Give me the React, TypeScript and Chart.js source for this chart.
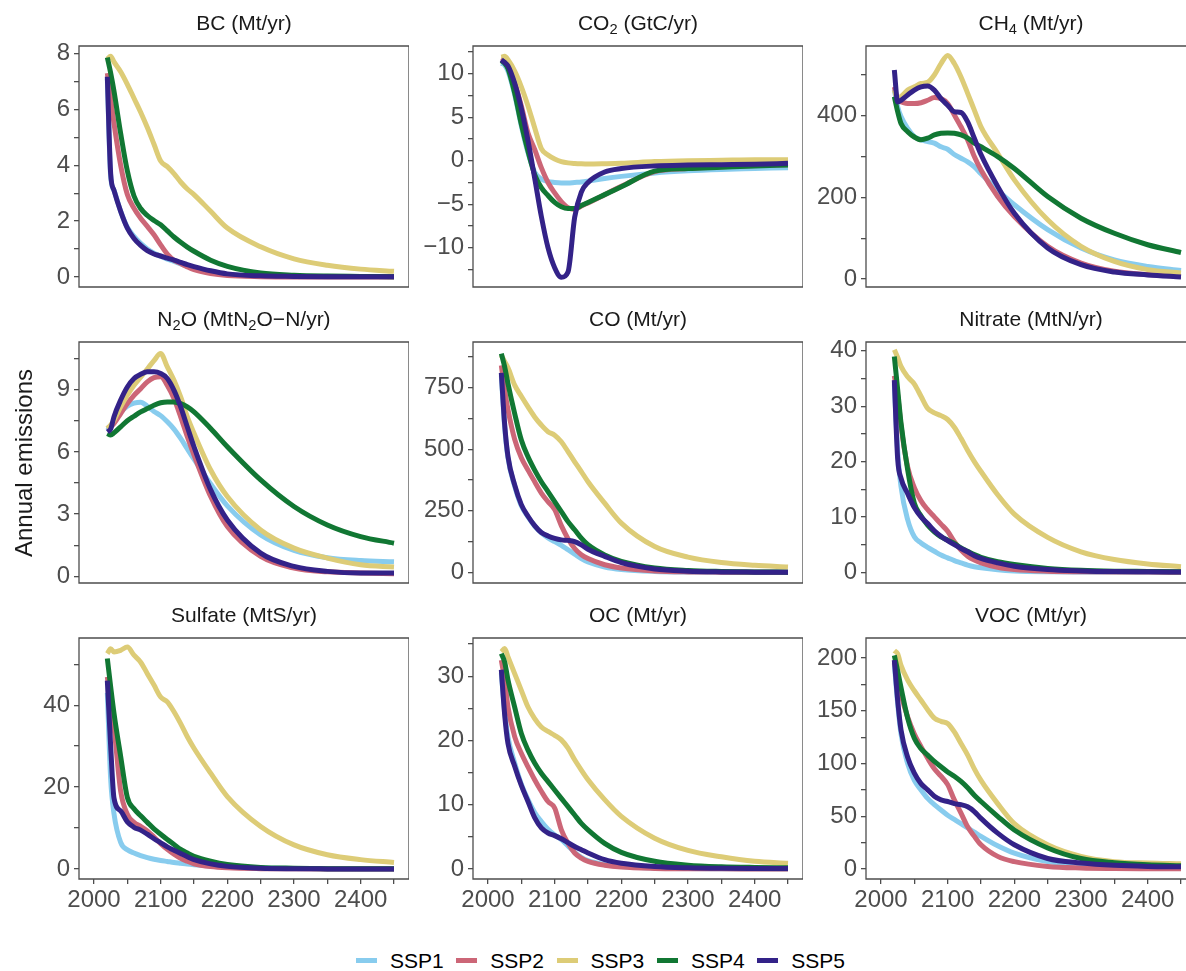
import React, { useEffect, useRef } from 'react';
import { Chart, registerables } from 'chart.js';

Chart.register(...registerables);

// ---------------- data ----------------
const years = [2020, 2025, 2030, 2040, 2050, 2060, 2070, 2080, 2090, 2100, 2110, 2120, 2130, 2140, 2150, 2175, 2200, 2250, 2300, 2350, 2400, 2450];

const seriesNames = ['SSP1', 'SSP2', 'SSP3', 'SSP4', 'SSP5'];
const seriesColors = ['#88CCEE', '#CC6677', '#DDCC77', '#117733', '#332288'];

const xTickValues = [2000, 2050, 2100, 2150, 2200, 2250, 2300, 2350, 2400, 2450];
const xTickLabels = [2000, 2100, 2200, 2300, 2400];

// rows: SSP1..SSP5
const bcValues = [
  [7.1, 3.6, 3.1, 2.35, 1.78, 1.45, 1.2, 1.0, 0.85, 0.74, 0.64, 0.56, 0.47, 0.39, 0.32, 0.18, 0.09, 0.03, 0.01, 0.01, 0.01, 0.01],
  [7.3, 6.4, 5.5, 4.0, 2.95, 2.46, 2.1, 1.81, 1.51, 1.15, 0.82, 0.6, 0.48, 0.36, 0.26, 0.12, 0.05, 0.01, 0, 0, 0, 0],
  [7.8, 7.9, 7.7, 7.35, 6.9, 6.4, 5.9, 5.35, 4.75, 4.15, 3.95, 3.7, 3.4, 3.15, 2.95, 2.35, 1.75, 1.08, 0.65, 0.42, 0.28, 0.2],
  [7.86, 7.3, 6.65, 5.14, 3.8, 2.9, 2.45, 2.2, 2.02, 1.87, 1.65, 1.43, 1.24, 1.07, 0.92, 0.6, 0.38, 0.14, 0.06, 0.03, 0.02, 0.01],
  [7.17, 3.7, 3.1, 2.35, 1.75, 1.38, 1.13, 0.94, 0.82, 0.75, 0.67, 0.6, 0.52, 0.44, 0.37, 0.22, 0.11, 0.04, 0.02, 0.01, 0.01, 0.01],
];
const co2Values = [
  [11.2, 11.0, 10.3, 7.6, 4.0, 0.9, -1.3, -2.1, -2.4, -2.5, -2.55, -2.55, -2.5, -2.45, -2.35, -2.05, -1.8, -1.4, -1.15, -1.0, -0.9, -0.8],
  [11.8, 11.6, 11.0, 9.0, 6.3, 3.2, 1.3, -0.8, -2.5, -3.7, -4.7, -5.4, -5.6, -5.2, -4.85, -3.9, -2.95, -1.25, -0.9, -0.7, -0.55, -0.45],
  [11.9, 12.0, 11.6, 10.3, 8.5, 6.3, 3.8, 1.4, 0.65, 0.2, -0.1, -0.25, -0.32, -0.36, -0.38, -0.35, -0.3, -0.1, 0.0, 0.05, 0.1, 0.1],
  [11.5, 11.2, 10.6, 7.8, 4.2, 1.1, -1.6, -3.1, -4.0, -4.8, -5.3, -5.5, -5.5, -5.15, -4.8, -3.9, -3.0, -1.2, -0.9, -0.75, -0.6, -0.5],
  [11.6, 11.3, 10.9, 8.9, 6.0, 2.3, -2.0, -6.4, -10.0, -12.3, -13.4, -12.8, -6.5, -3.6, -2.5, -1.3, -0.9, -0.6, -0.5, -0.45, -0.4, -0.3],
];
const ch4Values = [
  [463, 422, 398, 369, 349, 341, 337, 333, 324, 318, 305, 296, 287, 275, 258, 218, 182, 121, 76, 47, 31, 21],
  [471, 438, 434, 430, 430, 432, 438, 445, 442, 430, 402, 373, 341, 300, 267, 202, 153, 80, 39, 19, 11, 7],
  [463, 443, 447, 463, 471, 479, 482, 500, 528, 548, 528, 495, 455, 414, 373, 308, 243, 145, 80, 43, 23, 15],
  [447, 410, 381, 361, 348, 341, 345, 353, 357, 358, 357, 353, 345, 333, 324, 300, 271, 202, 149, 112, 84, 65],
  [512, 434, 438, 451, 463, 471, 473, 463, 442, 426, 410, 408, 385, 345, 305, 227, 161, 76, 35, 17, 10, 5],
];
const n2oValues = [
  [7.05, 7.2, 7.45, 7.9, 8.2, 8.35, 8.4, 8.2, 7.95, 7.75, 7.45, 7.1, 6.65, 6.15, 5.65, 4.45, 3.4, 2.0, 1.25, 0.9, 0.76, 0.7],
  [7.13, 7.2, 7.37, 7.85, 8.33, 8.73, 9.05, 9.38, 9.58, 9.62, 9.21, 8.57, 7.69, 6.73, 5.85, 3.85, 2.4, 0.96, 0.4, 0.22, 0.16, 0.13],
  [7.13, 7.3, 7.53, 8.17, 8.73, 9.21, 9.6, 10.0, 10.4, 10.74, 10.1, 9.45, 8.65, 7.69, 6.9, 5.13, 3.85, 2.24, 1.36, 0.88, 0.56, 0.45],
  [6.89, 6.81, 6.92, 7.21, 7.5, 7.72, 7.93, 8.09, 8.25, 8.37, 8.41, 8.41, 8.33, 8.17, 7.93, 7.13, 6.25, 4.65, 3.37, 2.48, 1.92, 1.6],
  [6.97, 7.1, 7.7, 8.5, 9.13, 9.54, 9.74, 9.86, 9.86, 9.78, 9.54, 8.97, 8.17, 7.2, 6.25, 4.17, 2.72, 1.12, 0.48, 0.24, 0.16, 0.16],
];
const coValues = [
  [800, 590, 465, 350, 270, 225, 188, 160, 140, 125, 110, 92, 74, 56, 42, 22, 12, 4, 1.5, 0.5, 0.2, 0.1],
  [840, 740, 660, 540, 465, 415, 368, 322, 287, 255, 190, 137, 97, 72, 56, 31, 18, 6, 2, 1, 0.5, 0.3],
  [881, 855, 830, 760, 715, 672, 631, 598, 571, 557, 530, 490, 449, 409, 368, 281, 200, 105, 62, 40, 29, 22],
  [888, 834, 766, 645, 537, 469, 415, 368, 328, 287, 247, 206, 173, 139, 112, 71, 45, 18, 8, 4, 2, 1],
  [810, 600, 470, 355, 275, 228, 190, 162, 148, 138, 132, 130, 125, 112, 94, 65, 40, 14, 5, 2, 1, 0.5],
];
const nitrateValues = [
  [34, 22, 15.5, 9.5, 6.4, 5.3, 4.5, 3.8, 3.1, 2.6, 2.1, 1.7, 1.3, 1.0, 0.8, 0.45, 0.25, 0.1, 0.05, 0.02, 0.02, 0.02],
  [35.5, 32, 26.5, 19.0, 15.3, 12.9, 11.3, 10.0, 8.7, 7.4, 5.5, 4.0, 2.9, 2.2, 1.7, 0.9, 0.5, 0.2, 0.1, 0.05, 0.03, 0.02],
  [40.2, 38.8, 37.2, 35.3, 34.0, 31.8, 29.6, 28.8, 28.3, 27.6, 26.2, 24.2, 22.0, 20.0, 18.2, 14.0, 10.5, 6.3, 3.7, 2.3, 1.5, 1.0],
  [39, 33, 27, 18.5, 12.5, 10.2, 8.5, 7.3, 6.4, 5.8, 5.2, 4.4, 3.8, 3.2, 2.7, 1.9, 1.4, 0.7, 0.35, 0.2, 0.15, 0.1],
  [34.7, 20.5, 17.0, 14.2, 11.7, 10.0, 8.8, 7.5, 6.5, 5.7, 5.0, 4.3, 3.7, 3.0, 2.5, 1.7, 1.1, 0.5, 0.25, 0.12, 0.08, 0.05],
];
const sulfateValues = [
  [43, 22, 13.5, 6.5, 4.7, 3.9, 3.3, 2.8, 2.4, 2.1, 1.85, 1.6, 1.4, 1.2, 1.05, 0.75, 0.5, 0.25, 0.12, 0.06, 0.03, 0.02],
  [46.9, 41.2, 34.7, 19.0, 13.4, 11.4, 10.4, 9.3, 7.8, 6.2, 4.8, 3.6, 2.6, 1.9, 1.3, 0.6, 0.3, 0.1, 0.05, 0.02, 0.01, 0.01],
  [52.6, 53.8, 53.0, 53.4, 54.2, 52.2, 50.5, 47.7, 44.9, 42.0, 40.8, 38.4, 35.5, 32.3, 29.5, 23.4, 17.7, 10.4, 5.9, 3.5, 2.3, 1.6],
  [51.4, 44.5, 38.0, 27.5, 17.5, 14.7, 13.0, 11.4, 9.8, 8.5, 7.2, 6.0, 4.8, 3.9, 3.1, 1.9, 1.1, 0.4, 0.2, 0.1, 0.05, 0.05],
  [46, 30, 17.3, 14.2, 11.5, 10.2, 9.5, 8.5, 7.4, 6.4, 5.4, 4.6, 3.8, 3.0, 2.3, 1.25, 0.65, 0.2, 0.08, 0.04, 0.02, 0.02],
];
const ocValues = [
  [30.5, 24.5, 20.5, 16.5, 13.2, 10.8, 8.8, 7.4, 6.2, 5.3, 4.6, 3.6, 2.6, 1.8, 1.3, 0.7, 0.4, 0.15, 0.08, 0.05, 0.03, 0.02],
  [32.5, 29.4, 25.2, 20.6, 18.0, 15.9, 13.9, 12.1, 10.5, 9.5, 6.1, 4.0, 2.5, 1.7, 1.2, 0.6, 0.3, 0.1, 0.05, 0.03, 0.02, 0.01],
  [33.8, 34.3, 33.0, 30.4, 27.8, 25.2, 23.4, 22.1, 21.4, 20.8, 20.1, 18.8, 17.0, 15.4, 13.9, 10.8, 8.2, 4.8, 2.9, 1.9, 1.2, 0.9],
  [33.5, 32.2, 29.4, 25.2, 21.1, 18.5, 16.5, 14.9, 13.6, 12.3, 11.0, 9.7, 8.4, 7.1, 6.1, 4.0, 2.6, 1.2, 0.6, 0.35, 0.25, 0.2],
  [31, 24, 19.5, 16, 13, 10.5, 8.0, 6.4, 5.6, 5.2, 4.7, 4.1, 3.5, 3.0, 2.5, 1.45, 0.9, 0.4, 0.2, 0.12, 0.1, 0.1],
];
const vocValues = [
  [195, 157, 128, 100, 84, 75, 67, 61, 56, 51, 47, 43, 39, 35, 31, 22, 15, 7, 4, 2.5, 2, 1.5],
  [196, 182, 166, 144, 128, 116, 105, 95, 88, 80, 65.5, 53, 40, 31, 23, 12, 7, 2.5, 1, 0.5, 0.3, 0.2],
  [207, 204, 193, 179, 169, 160, 151, 143, 140, 138, 130, 119, 108, 95, 84, 62, 43, 23, 12, 7, 5.7, 5],
  [202.5, 188, 172, 143, 124, 114, 108, 102, 97, 92, 88, 83, 77, 70, 64, 50, 37, 20, 10, 6, 4, 3],
  [198, 160, 132, 106, 91, 81, 75, 69, 65.5, 64, 62, 61, 59, 54.5, 48, 34, 23, 10, 5.7, 3.5, 2.5, 2.2],
];

// y tick values (labelled majors); minor ticks sit halfway between them
const bcTicks = [0, 2, 4, 6, 8];
const co2Ticks = [-10, -5, 0, 5, 10];
const ch4Ticks = [0, 200, 400];
const n2oTicks = [0, 3, 6, 9];
const coTicks = [0, 250, 500, 750];
const nitrateTicks = [0, 10, 20, 30, 40];
const sulfateTicks = [0, 20, 40];
const ocTicks = [0, 10, 20, 30];
const vocTicks = [0, 50, 100, 150, 200];

// ---------------- layout ----------------
const FONT = "'Liberation Sans', Arial, Helvetica, sans-serif";
const COL_LEFT = [79, 473, 866];
const ROW_TOP = [46, 342, 638];
const PANEL_W = 330;
const PANEL_H = 241;
const AXIS_W = 75;
const PAD = 20;
const X_AXIS_H = 50;
const X_MIN = 1977.5;
const PX_PER_YEAR = PANEL_W / 495;
const TICK_COLOR = '#4D4D4D';

type PanelDef = {
  title: React.ReactNode;
  values: number[][];
  yMin: number;
  yMax: number;
  majors: number[];
  minorLo: number;
  minorHi: number;
  step: number;
};

const Sub = ({ children }: { children: React.ReactNode }) => (
  <span style={{ fontSize: '0.7em', position: 'relative', top: '0.28em', lineHeight: 1 }}>{children}</span>
);

const panels: PanelDef[] = [
  { title: <>BC (Mt/yr)</>, values: bcValues, yMin: -0.36, yMax: 8.27, majors: bcTicks, minorLo: 0, minorHi: 8, step: 1 },
  { title: <>CO<Sub>2</Sub> (GtC/yr)</>, values: co2Values, yMin: -14.52, yMax: 13.19, majors: co2Ticks, minorLo: -12.5, minorHi: 12.5, step: 2.5 },
  { title: <>CH<Sub>4</Sub> (Mt/yr)</>, values: ch4Values, yMin: -19.6, yMax: 571, majors: ch4Ticks, minorLo: 0, minorHi: 500, step: 100 },
  { title: <>N<Sub>2</Sub>O (MtN<Sub>2</Sub>O−N/yr)</>, values: n2oValues, yMin: -0.32, yMax: 11.3, majors: n2oTicks, minorLo: 0, minorHi: 10.5, step: 1.5 },
  { title: <>CO (Mt/yr)</>, values: coValues, yMin: -43, yMax: 935, majors: coTicks, minorLo: 0, minorHi: 875, step: 125 },
  { title: <>Nitrate (MtN/yr)</>, values: nitrateValues, yMin: -1.94, yMax: 41.6, majors: nitrateTicks, minorLo: 0, minorHi: 40, step: 5 },
  { title: <>Sulfate (MtS/yr)</>, values: sulfateValues, yMin: -2.43, yMax: 56.4, majors: sulfateTicks, minorLo: 0, minorHi: 50, step: 10 },
  { title: <>OC (Mt/yr)</>, values: ocValues, yMin: -1.55, yMax: 35.94, majors: ocTicks, minorLo: 0, minorHi: 35, step: 5 },
  { title: <>VOC (Mt/yr)</>, values: vocValues, yMin: -9.45, yMax: 219, majors: vocTicks, minorLo: 0, minorHi: 200, step: 25 },
];

const fmt = (v: number) => (v < 0 ? '\u2212' + String(Math.abs(v)) : String(v));
const isIn = (arr: number[], v: number) => arr.some((a) => Math.abs(a - v) < 1e-6);

function makeBorderPlugin(drawRight: boolean) {
  return {
    id: 'panelBorder',
    afterDraw(chart: any) {
      const { ctx, chartArea: a } = chart;
      ctx.save();
      ctx.strokeStyle = TICK_COLOR;
      ctx.lineWidth = 1.3;
      ctx.beginPath();
      ctx.moveTo(a.right + (drawRight ? 0 : 5), a.top);
      ctx.lineTo(a.left, a.top);
      ctx.lineTo(a.left, a.bottom);
      ctx.lineTo(a.right + (drawRight ? 0 : 5), a.bottom);
      if (drawRight) {
        ctx.lineTo(a.right, a.top);
      }
      ctx.stroke();
      ctx.restore();
    },
  };
}

function Panel({ def, row, col }: { def: PanelDef; row: number; col: number }) {
  const ref = useRef<HTMLCanvasElement | null>(null);
  const isBottom = row === 2;
  const pw = col === 2 ? 1186 - COL_LEFT[2] : PANEL_W;
  const xMax = X_MIN + pw / PX_PER_YEAR;
  const w = AXIS_W + pw;
  const h = PAD + PANEL_H + (isBottom ? X_AXIS_H : PAD);
  const left = COL_LEFT[col] - AXIS_W;
  const top = ROW_TOP[row] - PAD;

  useEffect(() => {
    if (!ref.current) return;
    const yTickVals: number[] = [];
    for (let v = def.minorLo; v <= def.minorHi + 1e-9; v += def.step) yTickVals.push(Math.round(v * 1000) / 1000);
    const chart = new Chart(ref.current, {
      type: 'line',
      data: {
        datasets: def.values.map((vals, i) => ({
          label: seriesNames[i],
          data: years.map((yr, j) => ({ x: yr, y: vals[j] })),
          borderColor: seriesColors[i],
          backgroundColor: seriesColors[i],
          borderWidth: 5,
          pointRadius: 0,
          fill: false,
          cubicInterpolationMode: 'monotone' as const,
          borderJoinStyle: 'round' as const,
          order: 4 - i,
        })),
      },
      options: {
        animation: false,
        responsive: false,
        maintainAspectRatio: false,
        devicePixelRatio: 1,
        events: [],
        layout: { padding: { top: PAD, bottom: isBottom ? 0 : PAD, left: 0, right: 0 } },
        plugins: { legend: { display: false }, tooltip: { enabled: false }, title: { display: false } },
        scales: {
          x: {
            type: 'linear',
            min: X_MIN,
            max: xMax,
            display: isBottom,
            afterFit: (s: any) => {
              s.height = isBottom ? X_AXIS_H : 0;
            },
            afterBuildTicks: (s: any) => {
              s.ticks = xTickValues.filter((v) => v <= xMax).map((v) => ({ value: v }));
            },
            ticks: {
              autoSkip: false,
              maxRotation: 0,
              minRotation: 0,
              padding: 2,
              color: TICK_COLOR,
              font: { family: FONT, size: 24 },
              callback: (v: any) => (isIn(xTickLabels, Number(v)) ? String(v) : ''),
            },
            grid: { display: true, drawOnChartArea: false, drawTicks: true, tickLength: 5, color: TICK_COLOR, lineWidth: 1.3 },
            border: { display: false },
          },
          y: {
            type: 'linear',
            min: def.yMin,
            max: def.yMax,
            afterFit: (s: any) => {
              s.width = AXIS_W;
            },
            afterBuildTicks: (s: any) => {
              s.ticks = yTickVals.map((v) => ({ value: v }));
            },
            ticks: {
              autoSkip: false,
              padding: 4,
              color: TICK_COLOR,
              font: { family: FONT, size: 24 },
              callback: (v: any) => (isIn(def.majors, Number(v)) ? fmt(Number(v)) : ''),
            },
            grid: { display: true, drawOnChartArea: false, drawTicks: true, tickLength: 5, color: TICK_COLOR, lineWidth: 1.3 },
            border: { display: false },
          },
        },
      },
      plugins: [makeBorderPlugin(col !== 2)],
    } as any);
    return () => chart.destroy();
  }, []);

  return (
    <>
      <canvas
        ref={ref}
        width={w}
        height={h}
        style={{ position: 'absolute', left, top, width: w, height: h, display: 'block' }}
      />
      <div
        style={{
          position: 'absolute',
          left: COL_LEFT[col] + PANEL_W / 2 - 150,
          top: ROW_TOP[row] - 34,
          width: 300,
          textAlign: 'center',
          fontFamily: FONT,
          fontSize: 21,
          lineHeight: 1,
          color: '#1A1A1A',
          whiteSpace: 'nowrap',
        }}
      >
        {def.title}
      </div>
    </>
  );
}

export default function App() {
  useEffect(() => {
    document.body.style.overflow = 'hidden';
    document.body.style.background = '#FFFFFF';
  }, []);
  return (
    <div>
      {panels.map((p, i) => (
        <Panel key={i} def={p} row={Math.floor(i / 3)} col={i % 3} />
      ))}
      <div
        style={{
          position: 'absolute',
          left: 24 - 150,
          top: 462.5 - 12,
          width: 300,
          height: 24,
          lineHeight: 1,
          textAlign: 'center',
          fontFamily: FONT,
          fontSize: 24,
          color: '#1A1A1A',
          transform: 'rotate(-90deg)',
          whiteSpace: 'nowrap',
        }}
      >
        Annual emissions
      </div>
      {seriesNames.map((name, i) => (
        <div
          key={name}
          style={{
            position: 'absolute',
            left: 356 + i * 100.3,
            top: 950,
            height: 21,
            display: 'flex',
            alignItems: 'center',
            fontFamily: FONT,
            fontSize: 21,
            lineHeight: 1,
            color: '#000000',
            whiteSpace: 'nowrap',
          }}
        >
          <span style={{ display: 'inline-block', width: 21, height: 5, background: seriesColors[i], marginRight: 13 }} />
          <span>{name}</span>
        </div>
      ))}
    </div>
  );
}
